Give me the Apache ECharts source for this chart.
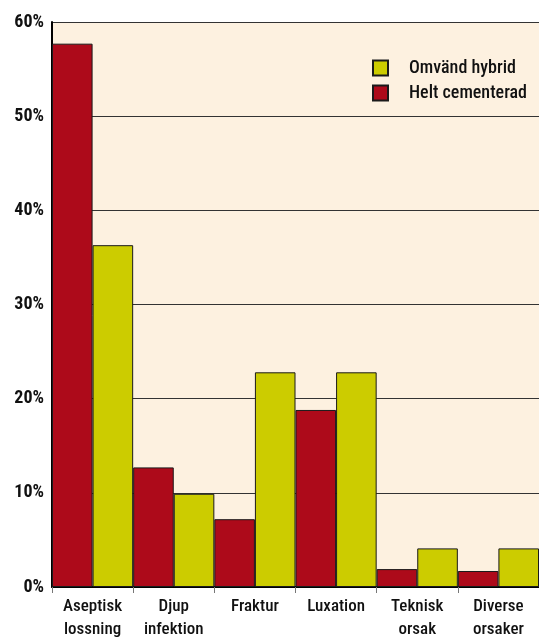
<!DOCTYPE html>
<html>
<head>
<meta charset="utf-8">
<script src="https://cdn.jsdelivr.net/npm/echarts@6/dist/echarts.min.js"></script>
<style>
  html, body { margin: 0; padding: 0; background: #ffffff; }
  #chart { width: 539px; height: 641px; }
</style>
</head>
<body>
<div id="chart"></div>
<script>
// Revision causes, share of revisions (%)
const categories = ['Aseptisk\nlossning', 'Djup\ninfektion', 'Fraktur', 'Luxation', 'Teknisk\norsak', 'Diverse\norsaker'];
const heltCementerad = [57.7, 12.7, 7.2, 18.8, 1.9, 1.7];
const omvandHybrid = [36.3, 9.9, 22.8, 22.8, 4.1, 4.1];
const yTicks = { min: 0, max: 60, interval: 10 };

const FONT = '"Roboto Condensed", "Open Sans Condensed", "Liberation Sans", sans-serif';

const chart = echarts.init(document.getElementById('chart'), null, { renderer: 'canvas' });
chart.setOption({
  animation: false,
  backgroundColor: '#ffffff',
  grid: {
    left: 52, right: 0, top: 22, bottom: 54,
    show: true, backgroundColor: '#fdf1e0', borderWidth: 0
  },
  legend: {
    data: ['Omvänd hybrid', 'Helt cementerad'],
    orient: 'vertical',
    left: 367, top: 54,
    icon: 'rect',
    itemWidth: 15, itemHeight: 15,
    itemGap: 7,
    textStyle: { fontFamily: FONT, fontSize: 18, fontWeight: 500, color: '#111', padding: [2, 0, 0, 16] }
  },
  xAxis: {
    type: 'category',
    data: categories,
    axisLine: { show: true, lineStyle: { color: '#000', width: 2 } },
    axisTick: { show: true, length: 6, lineStyle: { color: '#777', width: 1 } },
    axisLabel: {
      fontFamily: FONT, fontSize: 17, fontWeight: 500, color: '#111', margin: 8, lineHeight: 23,
      interval: 0
    }
  },
  yAxis: {
    type: 'value',
    min: yTicks.min, max: yTicks.max, interval: yTicks.interval,
    axisLine: { show: true, lineStyle: { color: '#000', width: 2 } },
    axisTick: { show: false },
    axisLabel: {
      formatter: '{value}%', fontFamily: FONT, fontSize: 18, fontWeight: 'bold',
      color: '#111', margin: 8
    },
    splitLine: { show: true, lineStyle: { color: '#333', width: 1 } }
  },
  series: [
    {
      name: 'Helt cementerad', type: 'bar', data: heltCementerad,
      barGap: '0%', barCategoryGap: '0%',
      itemStyle: { color: '#ad0a1a', borderColor: '#1a1a1a', borderWidth: 1 }
    },
    {
      name: 'Omvänd hybrid', type: 'bar', data: omvandHybrid,
      barGap: '0%', barCategoryGap: '0%',
      itemStyle: { color: '#cccc00', borderColor: '#1a1a1a', borderWidth: 1 }
    }
  ]
});
</script>
</body>
</html>
